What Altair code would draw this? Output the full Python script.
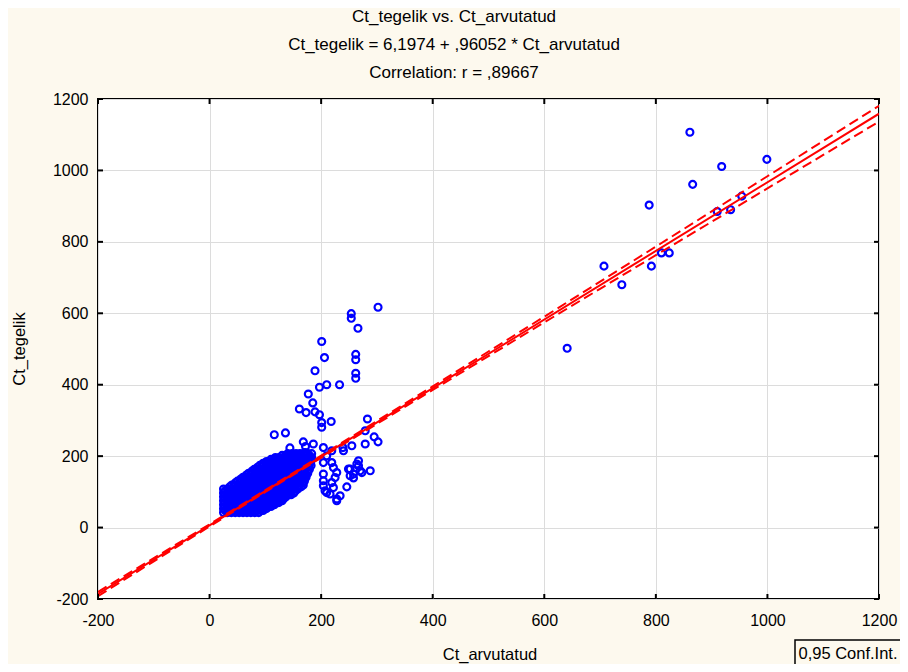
import altair as alt
import pandas as pd

# ---------------- data ----------------
# sparse high-value points
hi_x = [861, 918, 866, 999, 788, 954, 910, 934, 810, 824, 792, 707, 739, 641]
hi_y = [1107, 1011, 961, 1031, 903, 928, 885, 890, 769, 769, 732, 732, 680, 502]

# scattered mid-range points
mid_x = [302, 254, 254, 266, 201, 206, 262, 262, 189, 262, 262, 197, 210, 233, 177, 185,
         161, 173, 189, 197, 201, 201, 218, 283, 116, 136, 144, 168, 172, 186, 295, 302,
         279, 279, 171, 204, 210, 240, 255, 267, 252, 267, 288, 273, 252, 258, 228, 225,
         204, 204, 219, 204, 222, 246, 207, 216, 228, 234, 210, 174, 219, 239, 222, 204,
         219, 264, 270, 249, 258, 228]
mid_y = [617, 599, 586, 558, 521, 476, 485, 470, 439, 432, 418, 393, 400, 400, 374, 349,
         332, 322, 324, 316, 294, 281, 297, 304, 260, 265, 223, 240, 227, 234, 254, 240,
         234, 271, 210, 224, 201, 215, 229, 187, 164, 173, 159, 154, 145, 139, 154, 140,
         150, 131, 126, 117, 112, 114, 103, 94, 80, 89, 98, 208, 215, 224, 168, 182,
         182, 178, 159, 164, 150, 75]

# dense cluster, row by row (y value : x values)
cluster_rows = {
    42: [25, 32, 39, 46, 53, 60, 67, 74, 81, 88],
    48: [28, 35, 42, 49, 56, 63, 70, 77, 84, 91, 96],
    53: [25, 32, 39, 46, 53, 60, 67, 74, 81, 88, 95, 102],
    59: [28, 35, 42, 49, 56, 63, 70, 77, 84, 91, 98, 105, 110],
    64: [25, 32, 39, 46, 53, 60, 67, 74, 81, 88, 95, 102, 109, 116],
    70: [28, 35, 42, 49, 56, 63, 70, 77, 84, 91, 98, 105, 112, 119, 124],
    75: [25, 32, 39, 46, 53, 60, 67, 74, 81, 88, 95, 102, 109, 116, 123, 130],
    81: [28, 35, 42, 49, 56, 63, 70, 77, 84, 91, 98, 105, 112, 119, 126, 133],
    86: [25, 32, 39, 46, 53, 60, 67, 74, 81, 88, 95, 102, 109, 116, 123, 130, 137],
    92: [28, 35, 42, 49, 56, 63, 70, 77, 84, 91, 98, 105, 112, 119, 126, 133, 140, 146],
    97: [25, 32, 39, 46, 53, 60, 67, 74, 81, 88, 95, 102, 109, 116, 123, 130, 137, 144, 151],
    103: [28, 35, 42, 49, 56, 63, 70, 77, 84, 91, 98, 105, 112, 119, 126, 133, 140, 147, 154],
    108: [25, 32, 39, 46, 53, 60, 67, 74, 81, 88, 95, 102, 109, 116, 123, 130, 137, 144, 151, 158],
    114: [36, 43, 50, 57, 64, 71, 78, 85, 92, 99, 106, 113, 120, 127, 136, 143, 150, 157, 164],
    119: [40, 47, 54, 61, 68, 75, 82, 89, 96, 103, 110, 117, 124, 133, 140, 147, 154, 161, 168],
    125: [46, 53, 60, 67, 74, 81, 88, 95, 102, 109, 116, 123, 130, 138, 146, 153, 160, 167],
    130: [50, 57, 64, 71, 78, 85, 92, 99, 106, 113, 120, 127, 134, 143, 150, 157, 164, 170],
    136: [56, 63, 70, 77, 84, 91, 98, 105, 112, 119, 126, 133, 140, 148, 156, 163, 170],
    141: [60, 67, 74, 81, 88, 95, 102, 109, 116, 123, 130, 137, 144, 153, 160, 167, 173],
    147: [66, 73, 80, 87, 94, 101, 108, 115, 122, 129, 136, 143, 150, 158, 166, 173],
    152: [70, 77, 84, 91, 98, 105, 112, 119, 126, 133, 140, 147, 154, 163, 170, 176],
    158: [76, 83, 90, 97, 104, 111, 118, 125, 132, 139, 146, 153, 160, 168, 176],
    163: [80, 87, 94, 101, 108, 115, 122, 129, 136, 143, 150, 157, 164, 171, 179],
    169: [86, 93, 100, 107, 114, 121, 128, 135, 142, 149, 156, 163, 170, 178],
    174: [90, 97, 104, 111, 118, 125, 132, 139, 146, 153, 160, 167, 174, 182],
    180: [96, 103, 110, 117, 124, 131, 138, 145, 152, 159, 166, 173, 180],
    185: [102, 109, 116, 123, 130, 137, 144, 151, 158, 165, 172, 181],
    191: [110, 117, 124, 131, 138, 145, 152, 159, 166, 173, 180],
    196: [118, 125, 132, 139, 146, 153, 160, 167, 174, 183],
    202: [130, 137, 144, 151, 158, 165, 172, 179],
    207: [140, 148, 155, 162, 169, 176, 183],
}

# regression line and 0.95 confidence band
reg_x = [-200, 1200]
reg_y = [-185.9, 1158.8]
ci_x = [-200, -100, 0, 100, 200, 300, 400, 500, 600, 700, 800, 900, 1000, 1100, 1200]
ci_upper = [-179.9, -85.4, 9.2, 104.8, 201.3, 298.4, 395.4, 493.0, 590.5, 688.6,
            786.6, 885.2, 983.7, 1082.3, 1180.8]
ci_lower = [-191.9, -94.4, 3.2, 99.8, 195.3, 290.4, 385.4, 480.0, 574.5, 668.6,
            762.6, 856.2, 949.7, 1043.3, 1136.8]

tick_values = [-200, 0, 200, 400, 600, 800, 1000, 1200]

title_lines = ["Ct_tegelik vs. Ct_arvutatud",
               "Ct_tegelik = 6,1974 + ,96052 * Ct_arvutatud",
               "Correlation: r = ,89667"]
x_title = "Ct_arvutatud"
y_title = "Ct_tegelik"
legend_text = "0,95 Conf.Int."

# ---------------- build tables ----------------
px, py = list(hi_x) + list(mid_x), list(hi_y) + list(mid_y)
for yy, xs_row in cluster_rows.items():
    px += xs_row
    py += [yy] * len(xs_row)
pts = pd.DataFrame({"x": px, "y": py})

ci = pd.DataFrame({"x": ci_x * 2, "y": ci_upper + ci_lower,
                   "band": ["upper"] * len(ci_x) + ["lower"] * len(ci_x)})
reg = pd.DataFrame({"x": reg_x, "y": reg_y})
ticks = pd.DataFrame({"v": tick_values})

W, H = 781, 500
FONT = "Liberation Sans"
dom = [-200, 1200]
BG = "#fdf9ee"

xs = alt.Scale(domain=dom, nice=False, zero=False)
ys = alt.Scale(domain=dom, nice=False, zero=False)

LBL = "'' + datum.value"
xaxis = alt.Axis(values=tick_values, labelExpr=LBL, grid=True, gridColor="#dcdcdc", gridWidth=1,
                 domain=False, ticks=False, labelPadding=13, labelFontSize=16,
                 labelFont=FONT, labelColor="black", title=None, labelFlush=False)
yaxis = alt.Axis(values=tick_values, labelExpr=LBL, grid=True, gridColor="#dcdcdc", gridWidth=1,
                 domain=False, ticks=False, labelPadding=10, labelFontSize=16,
                 labelFont=FONT, labelColor="black", title=None, labelFlush=False)

points = alt.Chart(pts).mark_point(shape="circle", filled=False, color="#0000ff",
                                   size=48, strokeWidth=2.2, opacity=1, clip=True).encode(
    x=alt.X("x:Q", scale=xs, axis=xaxis),
    y=alt.Y("y:Q", scale=ys, axis=yaxis),
)

band = alt.Chart(ci).mark_line(color="#ff0000", strokeWidth=2, strokeDash=[10, 5],
                               clip=True).encode(
    x=alt.X("x:Q", scale=xs), y=alt.Y("y:Q", scale=ys), detail="band:N")

line = alt.Chart(reg).mark_line(color="#ff0000", strokeWidth=2, clip=True).encode(
    x=alt.X("x:Q", scale=xs), y=alt.Y("y:Q", scale=ys))

tk = alt.Chart(ticks)
t_top = tk.mark_rule(color="black", strokeWidth=2).encode(
    x=alt.X("v:Q", scale=xs), y=alt.value(0), y2=alt.value(5))
t_bot = tk.mark_rule(color="black", strokeWidth=2).encode(
    x=alt.X("v:Q", scale=xs), y=alt.value(H), y2=alt.value(H - 5))
t_left = tk.mark_rule(color="black", strokeWidth=2).encode(
    y=alt.Y("v:Q", scale=ys), x=alt.value(0), x2=alt.value(5))
t_right = tk.mark_rule(color="black", strokeWidth=2).encode(
    y=alt.Y("v:Q", scale=ys), x=alt.value(W), x2=alt.value(W - 5))


def txt(s, x, y, size=16, angle=0):
    return alt.Chart(pd.DataFrame({"t": [s]})).mark_text(
        font=FONT, fontSize=size, color="black", align="center", baseline="middle",
        angle=angle).encode(text="t:N", x=alt.value(x), y=alt.value(y))


titles = [txt(title_lines[0], 356, -82, 17),
          txt(title_lines[1], 356, -54, 17),
          txt(title_lines[2], 356, -26, 17)]
xt = txt(x_title, 392, 556, 16.5)
yt = txt(y_title, -78, 250, 16.5, angle=270)

box = alt.Chart(pd.DataFrame({"a": [0]})).mark_rect(
    fill=BG, stroke="black", strokeWidth=1.5).encode(
    x=alt.value(697), x2=alt.value(830), y=alt.value(541), y2=alt.value(600))
leg = txt(legend_text, 750, 555, 16.5)

chart = alt.layer(points, band, line, t_top, t_bot, t_left, t_right,
                  *titles, xt, yt, box, leg).properties(
    width=W, height=H,
    autosize=alt.AutoSizeParams(type="none"),
    padding={"left": 90, "top": 91, "right": 21, "bottom": 65},
    background=BG,
).configure_view(stroke="black", strokeWidth=2, fill="white")

chart.save("out.html", embed_options={"renderer": "svg", "actions": False})
